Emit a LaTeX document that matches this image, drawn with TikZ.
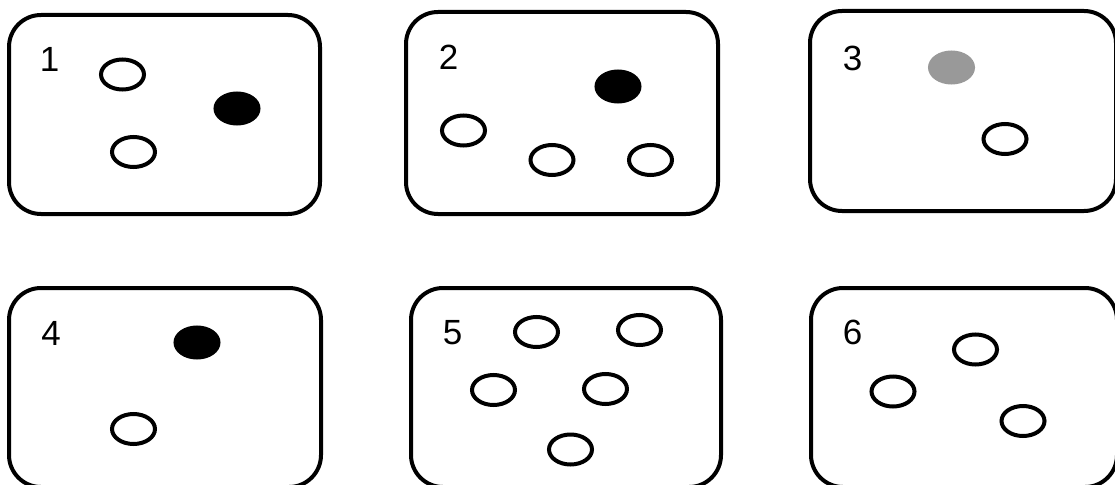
\documentclass[tikz,border=0pt]{standalone}
\usepackage{fontspec}
\setmainfont{Liberation Sans}
\usetikzlibrary{shapes.geometric}
\definecolor{dotgray}{HTML}{999999}

\begin{document}
\begin{tikzpicture}[x=1pt,y=-1pt,
  frame/.style={draw,line width=4pt,rounded corners=32pt,inner sep=0pt},
  num/.style={inner sep=0pt,font=\fontsize{35}{42}\selectfont},
  dot/.style={draw,ellipse,line width=4pt,minimum width=43pt,minimum height=30pt,inner sep=0pt},
  full/.style={dot,fill=black},
  grey/.style={dot,draw=dotgray,fill=dotgray}]
\useasboundingbox (0,0) rectangle (1115,484);
% six frames
\foreach \n/\x/\y/\w/\h in {1/164.5/114.5/311/199,2/562/113/312/202,3/963/111/306/200,
  4/165/387.5/312/199,5/566/387.5/310/199,6/964/387.5/306/199}{
  \node[frame,minimum width=\w pt,minimum height=\h pt] (box\n) at (\x,\y) {};}
% numbers
\foreach \n/\x/\y in {1/49.5/59.5,2/448.5/57.5,3/852.5/58.5,4/51/333,5/452.5/332.5,6/852.5/332.5}
  \node[num] (num\n) at (\x,\y) {\n};
% frame 1
\node[dot] (a1) at (122.5,74.5) {};
\node[full] (a2) at (237,108.5) {};
\node[dot] (a3) at (133.5,152) {};
% frame 2
\node[full] (b1) at (618,86.5) {};
\node[dot] (b2) at (463.5,130.5) {};
\node[dot] (b3) at (552,160) {};
\node[dot] (b4) at (650.5,160) {};
% frame 3
\node[grey] (c1) at (951.5,67.5) {};
\node[dot] (c2) at (1005,139) {};
% frame 4
\node[full] (d1) at (197,342.5) {};
\node[dot] (d2) at (133.5,429) {};
% frame 5
\node[dot] (e1) at (536.5,332) {};
\node[dot] (e2) at (639.5,330) {};
\node[dot] (e3) at (493.5,390) {};
\node[dot] (e4) at (605.5,389) {};
\node[dot] (e5) at (570.5,449.5) {};
% frame 6
\node[dot] (f1) at (975.5,349.5) {};
\node[dot] (f2) at (893,391.5) {};
\node[dot] (f3) at (1023,421) {};
\end{tikzpicture}
\end{document}
